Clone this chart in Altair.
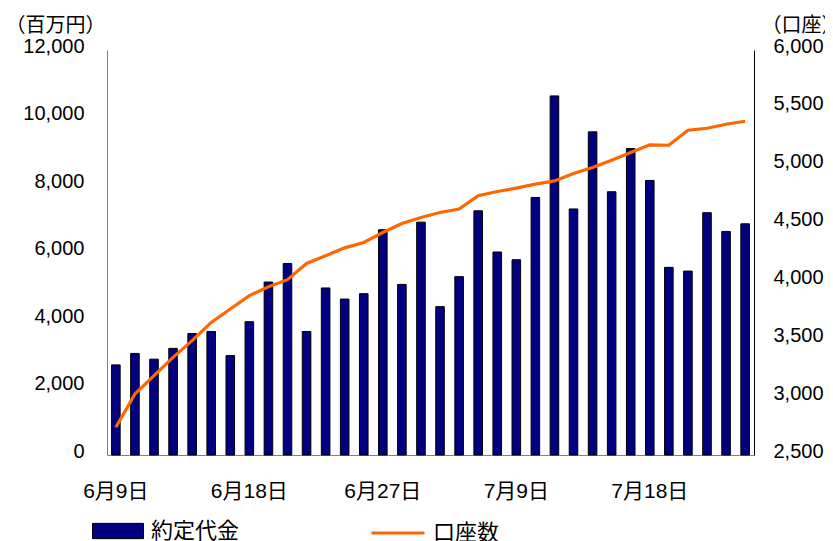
import altair as alt
import pandas as pd

dates = ["6月9日", "6月10日", "6月11日", "6月12日", "6月13日", "6月16日", "6月17日",
         "6月18日", "6月19日", "6月20日", "6月23日", "6月24日", "6月25日", "6月26日",
         "6月27日", "6月30日", "7月1日", "7月2日", "7月3日", "7月4日", "7月7日",
         "7月9日", "7月10日", "7月11日", "7月14日", "7月15日", "7月16日", "7月17日",
         "7月18日", "7月22日", "7月23日", "7月24日", "7月25日", "7月28日"]
label_dates = ["6月9日", "6月18日", "6月27日", "7月9日", "7月18日"]

amounts = [2670, 3010, 2840, 3160, 3600, 3660, 2945, 3950, 5125, 5675,
           3660, 4950, 4620, 4780, 6675, 5055, 6900, 4395, 5285, 7235,
           6015, 5785, 7630, 10640, 7290, 9575, 7800, 9080, 8135, 5560,
           5450, 7180, 6625, 6850]
accounts = [2740, 3028, 3186, 3344, 3488, 3646, 3762, 3877, 3954, 4015,
            4155, 4222, 4290, 4337, 4423, 4501, 4553, 4596, 4625, 4740,
            4777, 4806, 4841, 4869, 4932, 4984, 5048, 5114, 5180, 5177,
            5307, 5324, 5358, 5384]

left_ticks = [0, 2000, 4000, 6000, 8000, 10000, 12000]
right_ticks = [2500, 3000, 3500, 4000, 4500, 5000, 5500, 6000]

df = pd.DataFrame({"date": dates, "amount": amounts, "accounts": accounts,
                   "s1": "約定代金", "s2": "口座数"})

FONT = "Liberation Sans, Noto Sans CJK JP"
CJK = "Noto Sans CJK JP"

x_enc = alt.X("date:N", sort=dates,
              scale=alt.Scale(paddingInner=0.55, paddingOuter=0.24),
              axis=alt.Axis(title=None, values=label_dates, labelAngle=0, ticks=False, tickSize=0,
                            domainColor="#808080", domainWidth=1, labelFontSize=21, labelFont=FONT,
                            labelColor="black", labelPadding=42, labelBaseline="alphabetic",
                            grid=False))

bars = alt.Chart(df).mark_bar(stroke="black", strokeWidth=1).encode(
    x=x_enc,
    y=alt.Y("amount:Q", scale=alt.Scale(domain=[0, 12000], nice=False),
            axis=alt.Axis(values=left_ticks, format=",.0f", ticks=False, tickSize=0, grid=False,
                          domainColor="#808080", labelFontSize=20, labelFont=FONT,
                          labelColor="black", labelPadding=23, labelOffset=-4,
                          labelBaseline="middle",
                          title="（百万円）", titleAngle=0, titleAlign="left",
                          titleBaseline="alphabetic", titleX=-102, titleY=-19,
                          titleFont=CJK, titleFontSize=20, titleFontWeight="normal",
                          titleColor="black")),
    color=alt.Color("s1:N", scale=alt.Scale(range=["#000080"]),
                    legend=alt.Legend(title=None, orient="none", legendX=-15, legendY=455,
                                      symbolType="M-1,-0.3H1V0.3H-1Z", symbolSize=2601,
                                      symbolStrokeColor="black", symbolStrokeWidth=1,
                                      symbolOpacity=1,
                                      labelFont=CJK, labelFontSize=22, labelColor="black",
                                      labelOffset=7, padding=0)),
)

line = alt.Chart(df).mark_line(strokeWidth=3.2).encode(
    x=alt.X("date:N", sort=dates),
    y=alt.Y("accounts:Q", scale=alt.Scale(domain=[2500, 6000], nice=False),
            axis=alt.Axis(orient="right", values=right_ticks, format=",.0f", ticks=False,
                          tickSize=0, grid=False, domainColor="black", labelFontSize=20,
                          labelFont=FONT, labelColor="black", labelPadding=19, labelOffset=-4,
                          labelBaseline="middle",
                          title="（口座）", titleAngle=0, titleAlign="left",
                          titleBaseline="alphabetic", titleX=7, titleY=-19,
                          titleFont=CJK, titleFontSize=20, titleFontWeight="normal",
                          titleColor="black")),
    stroke=alt.Stroke("s2:N", scale=alt.Scale(range=["#FF6600"]),
                      legend=alt.Legend(title=None, orient="none", legendX=263, legendY=455,
                                        symbolType="stroke", symbolSize=2809,
                                        symbolStrokeWidth=3,
                                        labelFont=CJK, labelFontSize=22, labelColor="black",
                                        labelOffset=7, padding=0)),
)

chart = alt.layer(bars, line).resolve_scale(y="independent").properties(
    width=647, height=405,
    padding={"left": 99, "top": 42, "right": 71, "bottom": 94},
    autosize=alt.AutoSizeParams(type="none"),
).configure_view(stroke=None)

chart.save("out.html", embed_options={"renderer": "svg", "actions": False})
